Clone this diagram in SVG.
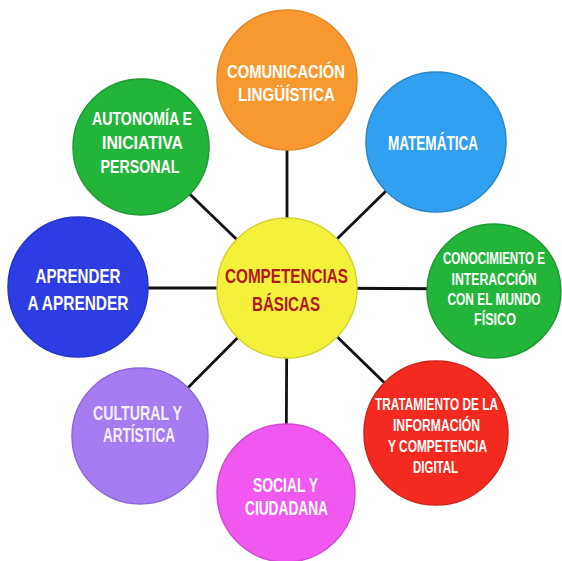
<svg xmlns="http://www.w3.org/2000/svg" width="562" height="561" viewBox="0 0 562 561">
<style>
.c{stroke-width:1.5}
.t{font-family:"Liberation Sans Narrow","Liberation Sans",Arial,sans-serif;font-weight:bold;fill:#ffffff;text-anchor:middle}
.m{fill:#b3161c}
.cn{stroke:#111;stroke-width:2.8}
</style>
<rect width="562" height="561" fill="#ffffff"/>
<g id="connectors">
<line class="cn" x1="287" y1="288" x2="287" y2="80"/>
<line class="cn" x1="287" y1="288" x2="436" y2="142"/>
<line class="cn" x1="287" y1="288" x2="141" y2="147"/>
<line class="cn" x1="287" y1="288" x2="494" y2="289"/>
<line class="cn" x1="287" y1="288" x2="78" y2="288"/>
<line class="cn" x1="287" y1="288" x2="436" y2="433"/>
<line class="cn" x1="287" y1="288" x2="140" y2="436"/>
<line class="cn" x1="287" y1="288" x2="286" y2="493"/>
</g>
<g id="comunicacion">
<circle class="c" cx="287" cy="80" r="70" fill="#f7992f" stroke="#e08a2a"/>
<text class="t" x="286" y="78" font-size="18" textLength="118" lengthAdjust="spacingAndGlyphs">COMUNICACIÓN</text>
<text class="t" x="286.5" y="101" font-size="18" textLength="97" lengthAdjust="spacingAndGlyphs">LINGÜÍSTICA</text>
</g>
<g id="matematica">
<circle class="c" cx="436" cy="142" r="70" fill="#31a0f0" stroke="#2a86c8"/>
<text class="t" x="433" y="150" font-size="20" textLength="90" lengthAdjust="spacingAndGlyphs">MATEMÁTICA</text>
</g>
<g id="autonomia">
<circle class="c" cx="141" cy="147" r="68" fill="#22b53a" stroke="#1d9a32"/>
<text class="t" x="142" y="125" font-size="18" textLength="100" lengthAdjust="spacingAndGlyphs">AUTONOMÍA E</text>
<text class="t" x="142.5" y="149" font-size="18" textLength="81" lengthAdjust="spacingAndGlyphs">INICIATIVA</text>
<text class="t" x="140" y="173" font-size="18" textLength="79" lengthAdjust="spacingAndGlyphs">PERSONAL</text>
</g>
<g id="competencias">
<circle class="c" cx="287" cy="288" r="70" fill="#f3f13a" stroke="#d6d430"/>
<text class="t m" x="286.5" y="283" font-size="21" textLength="123" lengthAdjust="spacingAndGlyphs">COMPETENCIAS</text>
<text class="t m" x="286" y="311" font-size="21" textLength="68" lengthAdjust="spacingAndGlyphs">BÁSICAS</text>
</g>
<g id="conocimiento">
<circle class="c" cx="494" cy="291" r="67" fill="#22b53a" stroke="#1d9a32"/>
<text class="t" x="494" y="264" font-size="16" textLength="102" lengthAdjust="spacingAndGlyphs">CONOCIMIENTO E</text>
<text class="t" x="494" y="285" font-size="16" textLength="85" lengthAdjust="spacingAndGlyphs">INTERACCIÓN</text>
<text class="t" x="494" y="305" font-size="16" textLength="93" lengthAdjust="spacingAndGlyphs">CON EL MUNDO</text>
<text class="t" x="495" y="325" font-size="16" textLength="42" lengthAdjust="spacingAndGlyphs">FÍSICO</text>
</g>
<g id="aprender">
<circle class="c" cx="78" cy="287" r="70" fill="#2d3de4" stroke="#2634c0"/>
<text class="t" x="78" y="283" font-size="20" textLength="85" lengthAdjust="spacingAndGlyphs">APRENDER</text>
<text class="t" x="78" y="310" font-size="20" textLength="101" lengthAdjust="spacingAndGlyphs">A APRENDER</text>
</g>
<g id="tratamiento">
<circle class="c" cx="436" cy="433" r="72" fill="#f4291f" stroke="#d0231a"/>
<text class="t" x="436.5" y="410" font-size="17" textLength="123" lengthAdjust="spacingAndGlyphs">TRATAMIENTO DE LA</text>
<text class="t" x="436.5" y="431" font-size="17" textLength="87" lengthAdjust="spacingAndGlyphs">INFORMACIÓN</text>
<text class="t" x="437.5" y="452" font-size="17" textLength="99" lengthAdjust="spacingAndGlyphs">Y COMPETENCIA</text>
<text class="t" x="435.5" y="473" font-size="17" textLength="45" lengthAdjust="spacingAndGlyphs">DIGITAL</text>
</g>
<g id="cultural">
<circle class="c" cx="140" cy="436" r="68" fill="#a67cf3" stroke="#8e68d6"/>
<text class="t" x="137.5" y="420" font-size="20" textLength="89" lengthAdjust="spacingAndGlyphs" style="fill:#f4f0fa">CULTURAL  Y</text>
<text class="t" x="139" y="442" font-size="20" textLength="72" lengthAdjust="spacingAndGlyphs" style="fill:#f4f0fa">ARTÍSTICA</text>
</g>
<g id="social">
<circle class="c" cx="286" cy="493" r="69" fill="#f058f0" stroke="#d24ad2"/>
<text class="t" x="285.5" y="492" font-size="20" textLength="65" lengthAdjust="spacingAndGlyphs">SOCIAL Y</text>
<text class="t" x="286.5" y="515" font-size="20" textLength="83" lengthAdjust="spacingAndGlyphs">CIUDADANA</text>
</g>
</svg>
